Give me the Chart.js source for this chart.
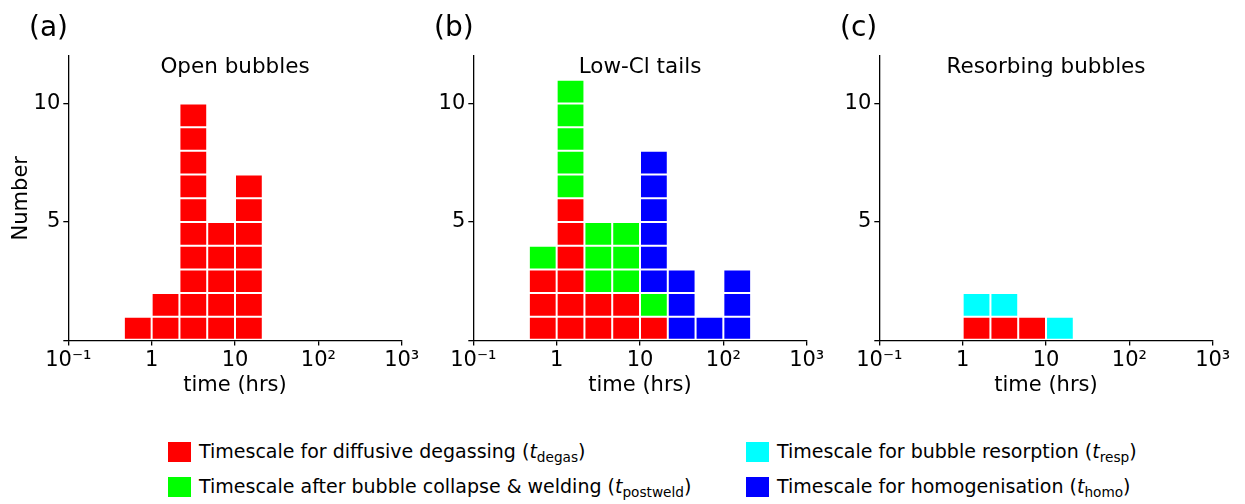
<!DOCTYPE html>
<html><head><meta charset="utf-8">
<script src="https://cdn.jsdelivr.net/npm/chart.js@4.4.1/dist/chart.umd.min.js"></script>
<style>
html,body{margin:0;padding:0;background:#fff;width:1245px;height:504px;overflow:hidden;font-family:"DejaVu Sans",sans-serif;color:#000}
canvas{position:absolute;top:0}
.lbl{position:absolute;font-size:28px;line-height:28px;white-space:nowrap}
.ttl{position:absolute;font-size:21.5px;line-height:20px;white-space:nowrap;transform:translateX(-50%)}
.leg{position:absolute;font-size:19px;line-height:18px;white-space:nowrap}
.sw{position:absolute;width:23px;height:20px}
sub{font-size:0.72em;line-height:0;vertical-align:baseline;position:relative;top:0.3em}
</style></head><body>
<canvas id="ca" width="430" height="420" style="left:0px"></canvas>
<canvas id="cb" width="430" height="420" style="left:405px"></canvas>
<canvas id="cc" width="430" height="420" style="left:811px"></canvas>
<div class="lbl" style="left:29px;top:13px">(a)</div>
<div class="lbl" style="left:434px;top:13px">(b)</div>
<div class="lbl" style="left:840px;top:13px">(c)</div>
<div class="ttl" style="left:235px;top:56px">Open bubbles</div>
<div class="ttl" style="left:640px;top:56px">Low-Cl tails</div>
<div class="ttl" style="left:1046px;top:56px">Resorbing bubbles</div>
<div class="sw" style="left:168px;top:442px;background:#ff0000"></div>
<div class="leg" style="left:199px;top:442px">Timescale for diffusive degassing (<i>t</i><sub>degas</sub>)</div>
<div class="sw" style="left:168px;top:477px;background:#00ff00"></div>
<div class="leg" style="left:199px;top:477px">Timescale after bubble collapse &amp; welding (<i>t</i><sub>postweld</sub>)</div>
<div class="sw" style="left:746px;top:442px;background:#00ffff"></div>
<div class="leg" style="left:777px;top:442px">Timescale for bubble resorption (<i>t</i><sub>resp</sub>)</div>
<div class="sw" style="left:746px;top:477px;background:#0000ff"></div>
<div class="leg" style="left:777px;top:477px">Timescale for homogenisation (<i>t</i><sub>homo</sub>)</div>
<script>
// bin edges in log10(time / hrs)
const binEdges = [-1/3, 0, 1/3, 2/3, 1, 4/3, 5/3, 2, 7/3];
const xTickValues = [-1, 0, 1, 2, 3];
const xTickLabels = ['10\u207B\u00B9', '1', '10', '10\u00B2', '10\u00B3'];
const yTickValues = [0, 5, 10];
const yTickLabels = ['', '5', '10'];

// counts per bin
const openDegas     = [1, 2, 10, 5, 7, 0, 0, 0];
const lowclDegas    = [3, 6, 2, 2, 1, 0, 0, 0];
const lowclPostweld = [1, 5, 3, 3, 1, 0, 0, 0];
const lowclHomo     = [0, 0, 0, 0, 6, 3, 1, 3];
const resorbDegas   = [0, 1, 1, 1, 0, 0, 0, 0];
const resorbResp    = [0, 1, 1, 0, 1, 0, 0, 0];

const RED = '#ff0000', GREEN = '#00ff00', BLUE = '#0000ff', CYAN = '#00ffff';
const FAMILY = '"DejaVu Sans", sans-serif';

function buildDatasets(seriesList) {
  const nb = binEdges.length - 1;
  const level = new Array(nb).fill(0);
  return seriesList.map(([counts, color]) => {
    const data = [];
    for (let i = 0; i < nb; i++) {
      const c = (binEdges[i] + binEdges[i + 1]) / 2;
      for (let k = 0; k < counts[i]; k++) {
        data.push({x: c, y: [level[i], level[i] + 1]});
        level[i]++;
      }
    }
    return {
      data, backgroundColor: color, borderColor: '#ffffff', borderWidth: 1,
      borderSkipped: false, grouped: false, barPercentage: 1, categoryPercentage: 1,
      inflateAmount: 0
    };
  });
}

function makeChart(id, seriesList, showYTitle) {
  new Chart(document.getElementById(id), {
    type: 'bar',
    data: {datasets: buildDatasets(seriesList)},
    options: {
      responsive: false, animation: false,
      layout: {padding: {left: 0, right: 28.3, top: 56, bottom: 21.4}},
      plugins: {legend: {display: false}, tooltip: {enabled: false}},
      scales: {
        x: {
          type: 'linear', min: -1, max: 3, offset: false,
          afterBuildTicks: s => { s.ticks = xTickValues.map(v => ({value: v})); },
          afterFit: s => { s.height = 58.1; },
          ticks: {
            callback: v => xTickLabels[xTickValues.indexOf(v)],
            color: '#000', font: {family: FAMILY, size: 21}, padding: 2,
            maxRotation: 0, autoSkip: false
          },
          grid: {drawOnChartArea: false, drawTicks: true, tickLength: 5, color: '#000', lineWidth: 1.3, offset: false},
          border: {display: true, color: '#000', width: 1.3},
          title: {display: true, text: 'time (hrs)', color: '#000', font: {family: FAMILY, size: 21}, padding: {top: 0, bottom: 0}}
        },
        y: {
          type: 'linear', min: 0, max: 12,
          afterBuildTicks: s => { s.ticks = yTickValues.map(v => ({value: v})); },
          afterFit: s => { s.width = 68.3; },
          ticks: {
            callback: v => yTickLabels[yTickValues.indexOf(v)],
            color: '#000', font: {family: FAMILY, size: 21}, padding: 3
          },
          grid: {drawOnChartArea: false, drawTicks: true, tickLength: 5, color: '#000', lineWidth: 1.3},
          border: {display: true, color: '#000', width: 1.3},
          title: {display: showYTitle, text: 'Number', color: '#000', font: {family: FAMILY, size: 21}, padding: {top: 9.4, bottom: 0}}
        }
      }
    }
  });
}

makeChart('ca', [[openDegas, RED]], true);
makeChart('cb', [[lowclDegas, RED], [lowclPostweld, GREEN], [lowclHomo, BLUE]], false);
makeChart('cc', [[resorbDegas, RED], [resorbResp, CYAN]], false);
</script>
</body></html>
